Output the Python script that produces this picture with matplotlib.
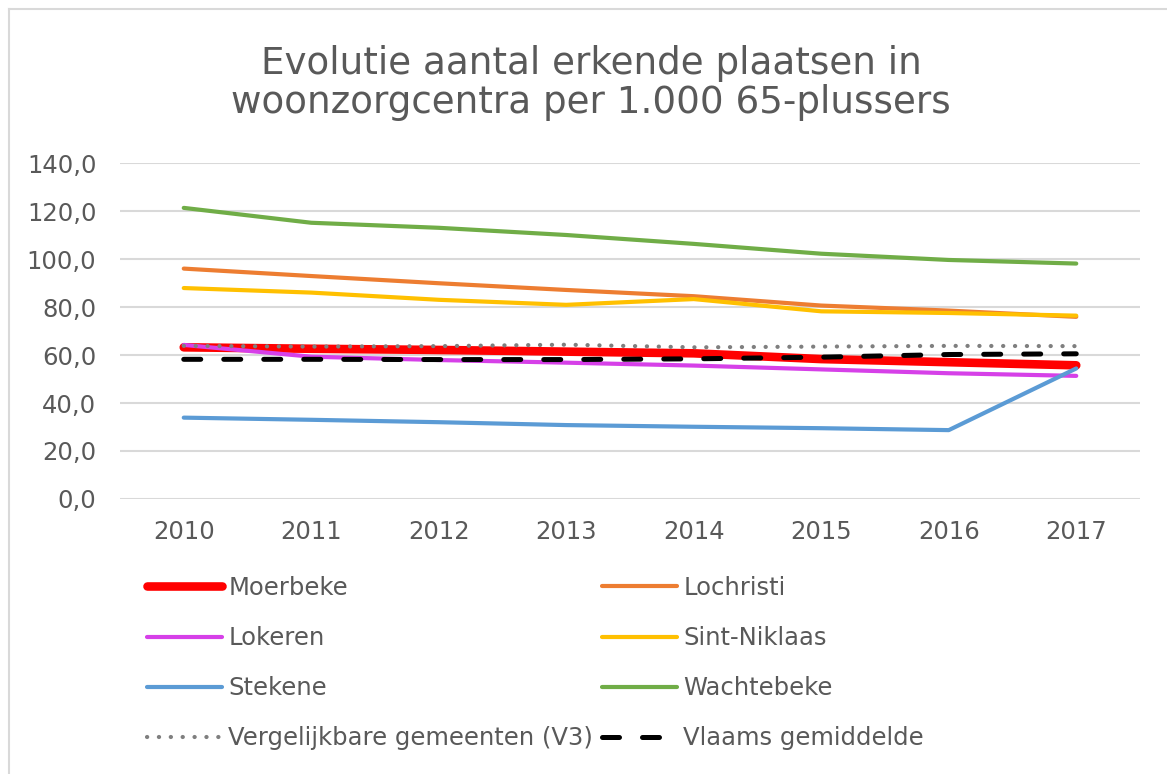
import matplotlib.pyplot as plt
from matplotlib.lines import Line2D

years = ["2010", "2011", "2012", "2013", "2014", "2015", "2016", "2017"]

moerbeke = [63.2, 62.6, 62.1, 61.4, 60.7, 58.3, 57.0, 55.7]
lochristi = [96.0, 92.9, 89.9, 87.1, 84.5, 80.6, 78.5, 75.9]
lokeren = [64.2, 59.3, 57.9, 56.8, 55.6, 54.0, 52.4, 51.3]
sint_niklaas = [87.9, 86.0, 83.0, 80.9, 83.3, 78.2, 77.5, 76.4]
stekene = [33.9, 33.0, 32.0, 30.8, 30.1, 29.5, 28.7, 54.4]
wachtebeke = [121.3, 115.1, 113.0, 110.0, 106.3, 102.2, 99.6, 98.1]
vergelijkbaar = [63.8, 63.5, 63.7, 64.3, 63.2, 63.5, 63.8, 63.7]
vlaams = [58.2, 58.2, 58.1, 58.1, 58.4, 59.1, 60.2, 60.5]

y_ticks = [0, 20, 40, 60, 80, 100, 120, 140]
y_labels = ["0,0", "20,0", "40,0", "60,0", "80,0", "100,0", "120,0", "140,0"]

TEXT = "#595959"
W, H = 1167, 774

plt.rcParams["font.family"] = "DejaVu Sans"

fig = plt.figure(figsize=(W / 100, H / 100), dpi=100)
ax = fig.add_axes([120 / W, 1 - 499 / H, 1020 / W, 336 / H])

x = range(len(years))
ax.plot(x, moerbeke, color="#FF0000", lw=6.2, solid_capstyle="round", solid_joinstyle="round", label="Moerbeke")
ax.plot(x, lochristi, color="#ED7D31", lw=3, solid_capstyle="round", label="Lochristi")
ax.plot(x, lokeren, color="#D640E8", lw=3, solid_capstyle="round", label="Lokeren")
ax.plot(x, sint_niklaas, color="#FFC000", lw=3, solid_capstyle="round", label="Sint-Niklaas")
ax.plot(x, stekene, color="#5B9BD5", lw=3, solid_capstyle="round", label="Stekene")
ax.plot(x, wachtebeke, color="#70AD47", lw=3, solid_capstyle="round", label="Wachtebeke")
ax.plot(x, vergelijkbaar, color="#7F7F7F", lw=3, linestyle=(0, (0.05, 2.8)),
        dash_capstyle="round", label="Vergelijkbare gemeenten (V3)")
ax.plot(x, vlaams, color="black", lw=3.6, linestyle=(0, (3.4, 4.6)),
        dash_capstyle="round", label="Vlaams gemiddelde")

ax.set_xlim(-0.5, 7.5)
ax.set_ylim(0, 140)
ax.set_xticks(list(x))
ax.set_xticklabels(years)
ax.set_yticks(y_ticks)
ax.set_yticklabels(y_labels)
ax.tick_params(axis="both", length=0, labelsize=17.5, labelcolor=TEXT)
ax.tick_params(axis="y", pad=17)
ax.tick_params(axis="x", pad=15)
ax.grid(axis="y", color="#D9D9D9", lw=1.5)
ax.set_axisbelow(True)
for s in ax.spines.values():
    s.set_visible(False)

# Excel puts legend entries row by row
handles, labels = ax.get_legend_handles_labels()
order = [0, 2, 4, 6, 1, 3, 5, 7]
leg = fig.legend([handles[i] for i in order], [labels[i] for i in order],
                 ncol=2, loc="upper left", bbox_to_anchor=(147 / W, 1 - 576 / H),
                 frameon=False, fontsize=17.5, handlelength=3.1, handletextpad=0.25,
                 columnspacing=0.35, labelspacing=1.07, borderpad=0, borderaxespad=0)
for t in leg.get_texts():
    t.set_color(TEXT)

fig.text(591 / W, 1 - 83 / H, "Evolutie aantal erkende plaatsen in\nwoonzorgcentra per 1.000 65-plussers",
         ha="center", va="center", fontsize=26.8, color=TEXT, linespacing=1.1)

# chart area border (only left and top are visible in the crop)
fig.add_artist(Line2D([9 / W, 9 / W], [0, 1 - 9 / H], color="#D9D9D9", lw=1.5))
fig.add_artist(Line2D([9 / W, 1], [1 - 9 / H, 1 - 9 / H], color="#D9D9D9", lw=1.5))

fig.savefig("out.png", dpi=100, facecolor="white")
